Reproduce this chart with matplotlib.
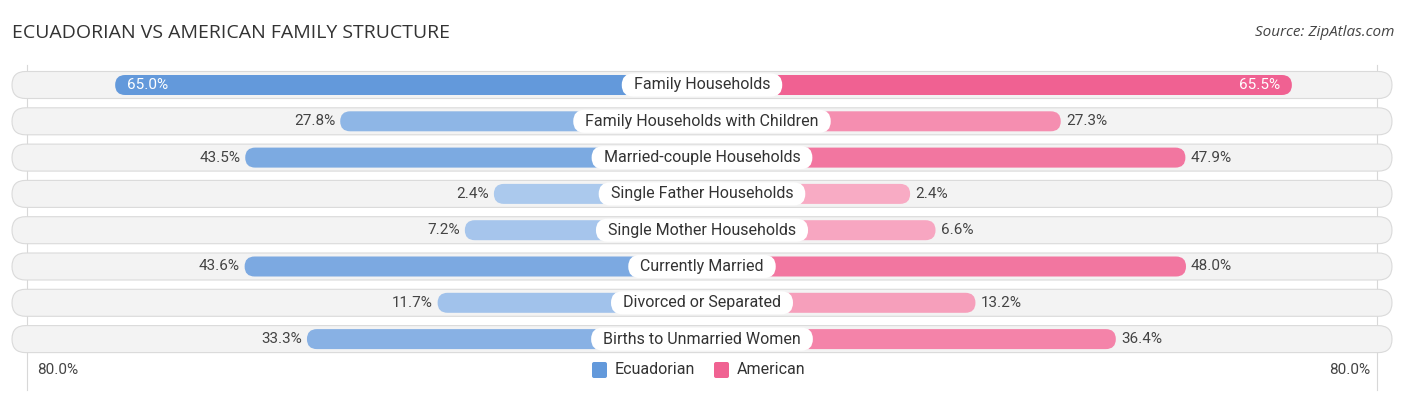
import numpy as np
import matplotlib.pyplot as plt
from matplotlib.patches import FancyBboxPatch
from matplotlib.colors import to_rgb

categories = [
    "Family Households",
    "Family Households with Children",
    "Married-couple Households",
    "Single Father Households",
    "Single Mother Households",
    "Currently Married",
    "Divorced or Separated",
    "Births to Unmarried Women",
]
ecuadorian = [65.0, 27.8, 43.5, 2.4, 7.2, 43.6, 11.7, 33.3]
american = [65.5, 27.3, 47.9, 2.4, 6.6, 48.0, 13.2, 36.4]
axis_max = 80.0

# layout (pixel based helpers)
W, H = 1406, 395
px_x = 6.05          # pixels per percent
cx = 702             # center pixel
row0, row_step = 85, 36.3
offset = 32.0        # space kept for the centre label, in % units

fig = plt.figure(figsize=(W / 100, H / 100), dpi=100)
ax = fig.add_axes([0, 0, 1, 1])
ax.set_xlim(-cx / px_x, (W - cx) / px_x)
ax.set_ylim((H - row0) / row_step, -row0 / row_step)
ax.axis("off")

asp = px_x / row_step  # mutation aspect for round shapes


def pill(x0, x1, y, h_px, fc, ec="none", lw=0, z=1):
    h = h_px / row_step
    r = (h_px / 2) / px_x
    p = FancyBboxPatch((x0, y - h / 2), x1 - x0, h,
                       boxstyle=f"round,pad=0,rounding_size={r}",
                       mutation_aspect=asp, fc=fc, ec=ec, lw=lw, zorder=z)
    ax.add_patch(p)


def mix(c1, c2, t):
    a, b = np.array(to_rgb(c1)), np.array(to_rgb(c2))
    return tuple(a + (b - a) * t)


blue_lo, blue_hi = "#aecbee", "#6399db"
pink_lo, pink_hi = "#f8aec6", "#f06292"

# guide lines at 80%
for s in (-1, 1):
    ax.plot([s * (offset + axis_max - 0.5)] * 2, [-0.55, 8.4], color="#d8d8d8", lw=0.8, zorder=0)

renderer = fig.canvas.get_renderer()
row_edge = 690 / px_x
for i, cat in enumerate(categories):
    pill(-row_edge, row_edge, i, 27, "#f3f3f3", ec="#dadada", lw=0.8, z=1)

    e, a = ecuadorian[i], american[i]
    ce = mix(blue_lo, blue_hi, e / 65)
    ca = mix(pink_lo, pink_hi, a / 65)
    pill(-(offset + e), 0, i, 20, ce, z=2)
    pill(0, offset + a, i, 20, ca, z=2)

    if e > 60:
        ax.text(-(offset + e) + 12 / px_x, i, f"{e:.1f}%", ha="left", va="center",
                fontsize=11, color="white", family="Roboto", zorder=4)
    else:
        ax.text(-(offset + e) - 5 / px_x, i, f"{e:.1f}%", ha="right", va="center",
                fontsize=11, color="#444444", family="Roboto", zorder=4)
    if a > 60:
        ax.text(offset + a - 12 / px_x, i, f"{a:.1f}%", ha="right", va="center",
                fontsize=11, color="white", family="Roboto", zorder=4)
    else:
        ax.text(offset + a + 5 / px_x, i, f"{a:.1f}%", ha="left", va="center",
                fontsize=11, color="#444444", family="Roboto", zorder=4)

    t = ax.text(0, i, cat, ha="center", va="center", fontsize=11.5, color="#333333",
                family="Roboto", zorder=5)
    tw = t.get_window_extent(renderer).width
    half = (tw / 2 + 12) / px_x
    pill(-half, half, i, 23, "white", z=3)

# axis labels at the bottom
yb = (370 - row0) / row_step
ax.text(-(cx - 37) / px_x, yb, f"{axis_max:.1f}%", ha="left", va="center",
        fontsize=11, color="#444444", family="Roboto")
ax.text((1370 - cx) / px_x, yb, f"{axis_max:.1f}%", ha="right", va="center",
        fontsize=11, color="#444444", family="Roboto")

# legend
for x0, col, name in [(592, blue_hi, "Ecuadorian"), (714, pink_hi, "American")]:
    ax.add_patch(FancyBboxPatch(((x0 - cx) / px_x, yb - 8 / row_step), 15 / px_x, 16 / row_step,
                                boxstyle=f"round,pad=0,rounding_size={2 / px_x}",
                                mutation_aspect=asp, fc=col, ec="none"))
    ax.text((x0 + 23 - cx) / px_x, yb, name, ha="left", va="center",
            fontsize=11.5, color="#333333", family="Roboto")

fig.text(12 / W, 1 - 33 / H, "ECUADORIAN VS AMERICAN FAMILY STRUCTURE", ha="left", va="center",
         fontsize=14, color="#333333", family="Open Sans")
fig.text(1394 / W, 1 - 33 / H, "Source: ZipAtlas.com", ha="right", va="center",
         fontsize=11, color="#444444", family="Open Sans", style="italic")

fig.savefig("out.png", dpi=100)
